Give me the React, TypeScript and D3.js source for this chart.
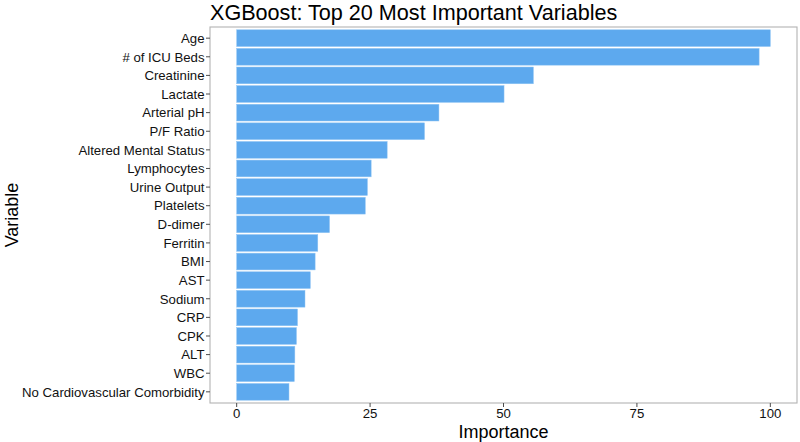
import React from "react";
import * as d3 from "d3";

const variables = [
  "Age", "# of ICU Beds", "Creatinine", "Lactate", "Arterial pH", "P/F Ratio",
  "Altered Mental Status", "Lymphocytes", "Urine Output", "Platelets", "D-dimer",
  "Ferritin", "BMI", "AST", "Sodium", "CRP", "CPK", "ALT", "WBC",
  "No Cardiovascular Comorbidity",
];
const importance = [
  100, 97.9, 55.6, 50.1, 37.9, 35.2, 28.2, 25.2, 24.5, 24.1, 17.4,
  15.2, 14.7, 13.8, 12.8, 11.4, 11.2, 10.9, 10.8, 9.8,
];
const xTicks = [0, 25, 50, 75, 100];

const W = 800, H = 442;
const panel = { left: 210, right: 797, top: 27, bottom: 403 };
const font = "'Liberation Sans', Arial, Helvetica, sans-serif";

export default function App() {
  const x = d3.scaleLinear().domain([-5, 105]).range([panel.left, panel.right]);
  const n = variables.length;
  const unit = (panel.bottom - panel.top) / (n - 1 + 1.2);
  const yC = (i: number) => panel.top + (0.6 + i) * unit;
  const bh = unit * 0.9;
  return (
    <svg width={W} height={H} style={{ position: "absolute", left: 0, top: 0, background: "#fff" }}>
      <text x={210} y={20} fontFamily={font} fontSize={21.6} fill="#000">
        XGBoost: Top 20 Most Important Variables
      </text>
      {importance.map((v, i) => (
        <rect key={i} x={x(0)} y={yC(i) - bh / 2} width={x(v) - x(0)} height={bh}
          fill="#5DA9EE" stroke="#8fc4f3" strokeWidth={0.5} />
      ))}
      <rect x={panel.left} y={panel.top} width={panel.right - panel.left}
        height={panel.bottom - panel.top} fill="none" stroke="#b3b3b3" strokeWidth={1.1} />
      {variables.map((name, i) => (
        <g key={name}>
          <line x1={panel.left - 4} x2={panel.left} y1={yC(i)} y2={yC(i)} stroke="#4d4d4d" strokeWidth={1} />
          <text x={panel.left - 5.5} y={yC(i)} dy="0.36em" textAnchor="end"
            fontFamily={font} fontSize={13.2} fill="#111">{name}</text>
        </g>
      ))}
      {xTicks.map((t) => (
        <g key={t}>
          <line x1={x(t)} x2={x(t)} y1={panel.bottom} y2={panel.bottom + 4} stroke="#4d4d4d" strokeWidth={1} />
          <text x={x(t)} y={panel.bottom + 15} textAnchor="middle"
            fontFamily={font} fontSize={13.2} fill="#111">{t}</text>
        </g>
      ))}
      <text x={(panel.left + panel.right) / 2} y={438} textAnchor="middle"
        fontFamily={font} fontSize={18} fill="#000">Importance</text>
      <text transform={`translate(18, ${(panel.top + panel.bottom) / 2}) rotate(-90)`}
        textAnchor="middle" fontFamily={font} fontSize={18} fill="#000">Variable</text>
    </svg>
  );
}
